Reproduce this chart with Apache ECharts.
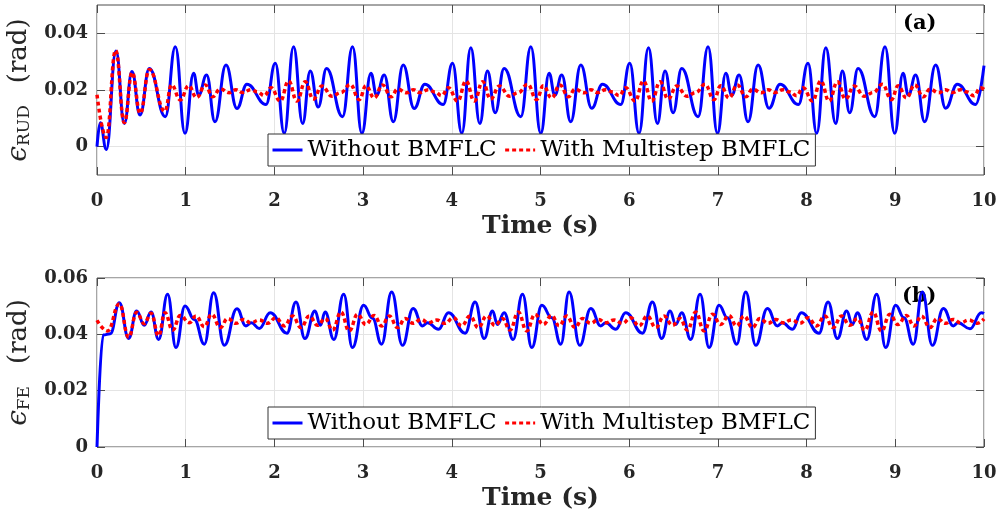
<!DOCTYPE html>
<html>
<head>
<meta charset="utf-8">
<script src="https://cdn.jsdelivr.net/npm/echarts@6/dist/echarts.min.js"></script>
<style>
  html, body { margin: 0; padding: 0; background: #ffffff; }
  #chart { width: 1001px; height: 518px; }
</style>
</head>
<body>
<div id="chart"></div>
<script>
// Tracking error of the radial/ulnar deviation joint, without compensation: [time (s), error (rad)]
const rudWithout = [
  [0,0],[0.037,0.0084],[0.105,-0.001],[0.214,0.0338],[0.308,0.0082],[0.394,0.0265],[0.485,0.0112],[0.590,0.0276],
  [0.770,0.0106],[0.883,0.0353],[0.992,0.0047],[1.089,0.0259],[1.146,0.0182],[1.236,0.0253],[1.330,0.0088],[1.454,0.0288],
  [1.578,0.0135],[1.690,0.0220],[1.905,0.0149],[2.010,0.0294],[2.111,0.0047],[2.216,0.0353],[2.318,0.0082],[2.404,0.0267],
  [2.494,0.0140],[2.588,0.0276],[2.768,0.0106],[2.881,0.0353],[2.986,0.0047],[3.088,0.0259],[3.152,0.0182],[3.238,0.0253],
  [3.341,0.0088],[3.452,0.0288],[3.576,0.0135],[3.696,0.0220],[3.903,0.0149],[4.008,0.0294],[4.113,0.0047],[4.214,0.0349],
  [4.316,0.0082],[4.402,0.0267],[4.489,0.0120],[4.590,0.0276],[4.778,0.0106],[4.891,0.0353],[5.003,0.0047],[5.097,0.0259],
  [5.161,0.0182],[5.240,0.0253],[5.341,0.0088],[5.454,0.0288],[5.578,0.0136],[5.698,0.0220],[5.905,0.0149],[6.006,0.0294],
  [6.111,0.0047],[6.217,0.0349],[6.318,0.0082],[6.404,0.0267],[6.495,0.0120],[6.592,0.0276],[6.777,0.0106],[6.889,0.0353],
  [6.995,0.0047],[7.089,0.0259],[7.156,0.0182],[7.239,0.0253],[7.340,0.0088],[7.453,0.0288],[7.577,0.0136],[7.701,0.0220],
  [7.908,0.0149],[8.016,0.0294],[8.114,0.0047],[8.216,0.0349],[8.328,0.0082],[8.403,0.0267],[8.486,0.0120],[8.580,0.0276],
  [8.768,0.0106],[8.884,0.0353],[8.993,0.0047],[9.087,0.0259],[9.147,0.0182],[9.230,0.0253],[9.331,0.0088],[9.455,0.0288],
  [9.568,0.0136],[9.699,0.0220],[9.906,0.0149],[10.0,0.0286]
];

// Radial/ulnar deviation error with the multistep BMFLC compensator
const rudWith = [
  [0,0.0183],[0.105,0.0032],[0.210,0.0340],[0.308,0.0085],[0.396,0.0262],[0.487,0.0118],[0.590,0.0272],[0.765,0.0125],
  [0.841,0.0218],[0.939,0.0165],[1.033,0.0215],[1.123,0.0173],[1.221,0.0218],[1.304,0.0176],[1.390,0.0204],[1.491,0.0190],
  [1.566,0.0201],[1.642,0.0191],[1.735,0.0201],[1.810,0.0193],[1.886,0.0180],[1.961,0.0208],[2.066,0.0161],[2.160,0.0232],
  [2.254,0.0161],[2.348,0.0229],[2.438,0.0168],[2.536,0.0214],[2.650,0.0178],[2.750,0.0191],
  [2.855,0.0220],[2.956,0.0166],[3.032,0.0215],[3.125,0.0172],[3.219,0.0218],[3.315,0.0176],[3.390,0.0203],[3.491,0.0190],
  [3.566,0.0201],[3.642,0.0191],[3.735,0.0201],[3.810,0.0193],[3.886,0.0180],[3.961,0.0208],[4.066,0.0161],[4.160,0.0232],
  [4.254,0.0161],[4.348,0.0229],[4.438,0.0168],[4.536,0.0214],[4.650,0.0178],[4.750,0.0191],
  [4.855,0.0220],[4.956,0.0166],[5.032,0.0215],[5.125,0.0172],[5.219,0.0218],[5.315,0.0176],[5.390,0.0203],[5.491,0.0190],
  [5.566,0.0201],[5.642,0.0191],[5.735,0.0201],[5.810,0.0193],[5.886,0.0180],[5.961,0.0208],[6.066,0.0161],[6.160,0.0232],
  [6.254,0.0161],[6.348,0.0229],[6.438,0.0168],[6.536,0.0214],[6.650,0.0178],[6.750,0.0191],
  [6.855,0.0220],[6.956,0.0166],[7.032,0.0215],[7.125,0.0172],[7.219,0.0218],[7.315,0.0176],[7.390,0.0203],[7.491,0.0190],
  [7.566,0.0201],[7.642,0.0191],[7.735,0.0201],[7.810,0.0193],[7.886,0.0180],[7.961,0.0208],[8.066,0.0161],[8.160,0.0232],
  [8.254,0.0161],[8.348,0.0229],[8.438,0.0168],[8.536,0.0214],[8.650,0.0178],[8.750,0.0191],
  [8.855,0.0220],[8.956,0.0166],[9.032,0.0215],[9.125,0.0172],[9.219,0.0218],[9.315,0.0176],[9.390,0.0203],[9.491,0.0190],
  [9.566,0.0201],[9.642,0.0191],[9.735,0.0201],[9.810,0.0193],[9.886,0.0180],[9.961,0.0208],[10.0,0.0202]
];

// Flexion/extension error without compensation
const feWithout = [
  [0,0],[0.070,0.0398],[0.150,0.0402],[0.252,0.0512],[0.357,0.0385],[0.447,0.0483],[0.533,0.0432],[0.609,0.0479],
  [0.695,0.0382],[0.796,0.0542],[0.890,0.0353],[0.992,0.0501],[1.097,0.0453],[1.210,0.0365],[1.315,0.0548],[1.435,0.0361],
  [1.578,0.0491],[1.679,0.0430],[1.740,0.0441],[1.830,0.0421],[1.953,0.0477],[2.141,0.0404],[2.243,0.0515],[2.344,0.0385],
  [2.457,0.0483],[2.518,0.0432],[2.572,0.0479],[2.670,0.0382],[2.781,0.0542],[2.880,0.0353],[3.005,0.0503],[3.106,0.0457],
  [3.208,0.0365],[3.322,0.0550],[3.444,0.0361],[3.564,0.0492],[3.670,0.0430],[3.726,0.0441],[3.850,0.0418],[3.963,0.0477],
  [4.150,0.0404],[4.263,0.0515],[4.365,0.0385],[4.459,0.0483],[4.515,0.0435],[4.590,0.0477],[4.691,0.0382],[4.797,0.0542],
  [4.902,0.0353],[5.015,0.0503],[5.127,0.0459],[5.229,0.0365],[5.322,0.0550],[5.443,0.0361],[5.567,0.0492],[5.679,0.0430],
  [5.736,0.0441],[5.848,0.0418],[5.961,0.0477],[6.149,0.0404],[6.262,0.0515],[6.367,0.0385],[6.461,0.0483],[6.525,0.0435],
  [6.592,0.0477],[6.694,0.0382],[6.799,0.0542],[6.901,0.0353],[7.013,0.0503],[7.107,0.0459],[7.213,0.0365],[7.314,0.0550],
  [7.427,0.0361],[7.558,0.0492],[7.671,0.0430],[7.727,0.0441],[7.840,0.0418],[7.941,0.0477],[8.140,0.0404],[8.242,0.0515],
  [8.347,0.0385],[8.452,0.0483],[8.516,0.0435],[8.572,0.0477],[8.678,0.0382],[8.790,0.0542],[8.892,0.0353],[9.004,0.0503],
  [9.098,0.0459],[9.203,0.0365],[9.305,0.0550],[9.418,0.0361],[9.542,0.0492],[9.654,0.0430],[9.707,0.0441],[9.842,0.0420],
  [9.970,0.0477],[10.0,0.0474]
];

// Flexion/extension error with the multistep BMFLC compensator
const feWith = [
  [0,0.0450],[0.120,0.0412],[0.252,0.0508],[0.357,0.0390],[0.447,0.0478],[0.533,0.0438],[0.609,0.0475],[0.695,0.0395],
  [0.766,0.0477],[0.853,0.0415],[0.939,0.0467],[1.040,0.0441],[1.116,0.0465],[1.210,0.0427],[1.292,0.0471],[1.390,0.0424],
  [1.473,0.0456],[1.566,0.0439],[1.653,0.0453],[1.736,0.0441],[1.830,0.0451],[1.923,0.0439],[2.017,0.0459],[2.111,0.0430],
  [2.205,0.0465],[2.299,0.0424],[2.393,0.0465],[2.487,0.0432],[2.573,0.0456],[2.656,0.0415],
  [2.750,0.0479],[2.844,0.0412],[2.938,0.0471],[3.030,0.0435],[3.125,0.0467],[3.210,0.0430],[3.295,0.0465],[3.390,0.0424],
  [3.473,0.0456],[3.566,0.0439],[3.653,0.0453],[3.736,0.0441],[3.830,0.0451],[3.923,0.0439],[4.017,0.0459],[4.111,0.0430],
  [4.205,0.0465],[4.299,0.0424],[4.393,0.0465],[4.487,0.0432],[4.573,0.0456],[4.656,0.0415],
  [4.750,0.0479],[4.844,0.0412],[4.938,0.0471],[5.030,0.0435],[5.125,0.0467],[5.210,0.0430],[5.295,0.0465],[5.390,0.0424],
  [5.473,0.0456],[5.566,0.0439],[5.653,0.0453],[5.736,0.0441],[5.830,0.0451],[5.923,0.0439],[6.017,0.0459],[6.111,0.0430],
  [6.205,0.0465],[6.299,0.0424],[6.393,0.0465],[6.487,0.0432],[6.573,0.0456],[6.656,0.0415],
  [6.750,0.0479],[6.844,0.0412],[6.938,0.0471],[7.030,0.0435],[7.125,0.0467],[7.210,0.0430],[7.295,0.0465],[7.390,0.0424],
  [7.473,0.0456],[7.566,0.0439],[7.653,0.0453],[7.736,0.0441],[7.830,0.0451],[7.923,0.0439],[8.017,0.0459],[8.111,0.0430],
  [8.205,0.0465],[8.299,0.0424],[8.393,0.0465],[8.487,0.0432],[8.573,0.0456],[8.656,0.0415],
  [8.750,0.0479],[8.844,0.0412],[8.938,0.0471],[9.030,0.0435],[9.125,0.0467],[9.210,0.0430],[9.295,0.0465],[9.390,0.0424],
  [9.473,0.0456],[9.566,0.0439],[9.653,0.0453],[9.736,0.0441],[9.830,0.0451],[9.923,0.0439],[10.0,0.0455]
];

const seriesNames = ['Without BMFLC', 'With Multistep BMFLC'];
const rudTicks = [0, 0.02, 0.04];
const feTicks = [0, 0.02, 0.04, 0.06];
const panelLabels = ['(a)', '(b)'];

const SERIF = 'DejaVu Serif';
const AXIS_COLOR = '#4d4d4d';
const GRID_COLOR = '#e4e4e4';
const TEXT_COLOR = '#262626';

function fmtTick(v) {
  return Math.abs(v) < 1e-9 ? '0' : v.toFixed(2);
}

function xAxes(gridIndex) {
  const base = {
    gridIndex, type: 'value', min: 0, max: 10, interval: 1,
    axisLine: { show: false, onZero: false },
    axisTick: { show: true, inside: true, length: 8, lineStyle: { color: AXIS_COLOR, width: 1 } }
  };
  return [
    Object.assign({}, base, {
      position: 'bottom',
      axisLabel: { margin: 17, fontFamily: SERIF, fontWeight: 'bold', fontSize: 18, color: TEXT_COLOR },
      splitLine: { show: true, lineStyle: { color: GRID_COLOR, width: 1 } },
      name: 'Time (s)', nameLocation: 'middle', nameGap: 39,
      nameTextStyle: { fontFamily: SERIF, fontWeight: 'bold', fontSize: 25, color: TEXT_COLOR }
    }),
    Object.assign({}, base, {
      position: 'top',
      axisLabel: { show: false },
      splitLine: { show: false }
    })
  ];
}

function yAxes(gridIndex, min, max, ticks, sub) {
  const base = {
    gridIndex, type: 'value', min, max,
    axisLine: { show: false, onZero: false },
    axisTick: { show: true, inside: true, length: 8, customValues: ticks, lineStyle: { color: AXIS_COLOR, width: 1 } }
  };
  return [
    Object.assign({}, base, {
      position: 'left',
      axisLabel: { customValues: ticks, formatter: fmtTick, margin: 9, fontFamily: SERIF, fontWeight: 'bold', fontSize: 18, color: TEXT_COLOR },
      splitLine: { show: true, lineStyle: { color: GRID_COLOR, width: 1 } },
      name: '{e|ϵ}{s|' + sub + '}{g| }{r|(rad)}',
      nameLocation: 'middle', nameRotate: 90, nameGap: 58,
      nameTextStyle: {
        color: TEXT_COLOR,
        rich: {
          e: { fontFamily: SERIF, fontStyle: 'italic', fontSize: 28, color: TEXT_COLOR },
          s: { fontFamily: SERIF, fontSize: 17, color: TEXT_COLOR, padding: [12, 0, 0, 0] },
          g: { fontFamily: SERIF, fontSize: 26, width: 22 },
          r: { fontFamily: SERIF, fontSize: 26, color: TEXT_COLOR }
        }
      }
    }),
    Object.assign({}, base, {
      position: 'right',
      axisLabel: { show: false },
      splitLine: { show: false }
    })
  ];
}

// Legend keys are plain line samples: a tiny item height keeps the key marker invisible
function legendAt(top) {
  return {
    data: seriesNames,
    left: 268, top,
    orient: 'horizontal',
    itemWidth: 30, itemHeight: 1, itemGap: 7,
    padding: [3, 5, 3, 3],
    borderColor: '#333333', borderWidth: 1, borderRadius: 0,
    backgroundColor: '#ffffff',
    selectedMode: false,
    lineStyle: { width: 3 },
    textStyle: { fontFamily: SERIF, fontSize: 23, color: '#000000', lineHeight: 26 }
  };
}

function lines(xIdx, yIdx, without, withBmflc) {
  return [
    {
      name: seriesNames[0], type: 'line', xAxisIndex: xIdx, yAxisIndex: yIdx,
      data: without, smooth: 0.45, smoothMonotone: 'x', symbol: 'none',
      lineStyle: { color: '#0000ff', width: 3 }, itemStyle: { color: '#0000ff' },
      z: 3
    },
    {
      name: seriesNames[1], type: 'line', xAxisIndex: xIdx, yAxisIndex: yIdx,
      data: withBmflc, smooth: 0.45, smoothMonotone: 'x', symbol: 'none',
      lineStyle: { color: '#ff0000', width: 3.5, type: [4, 3] }, itemStyle: { color: '#ff0000' },
      z: 4
    }
  ];
}

// Panel tags sit beneath the curves
const tagStyle = { fontFamily: SERIF, fontWeight: 'bold', fontSize: 21, color: '#000000' };

const chart = echarts.init(document.getElementById('chart'), null, { renderer: 'canvas' });
chart.setOption({
  animation: false,
  backgroundColor: '#ffffff',
  grid: [
    { left: 97, right: 17, top: 5, height: 170, show: true, borderColor: AXIS_COLOR, borderWidth: 1, backgroundColor: 'transparent', outerBoundsMode: 'none' },
    { left: 97, right: 17, top: 278, height: 169, show: true, borderColor: AXIS_COLOR, borderWidth: 1, backgroundColor: 'transparent', outerBoundsMode: 'none' }
  ],
  xAxis: xAxes(0).concat(xAxes(1)),
  yAxis: yAxes(0, -0.01, 0.05, rudTicks, 'RUD').concat(yAxes(1, 0, 0.06, feTicks, 'FE')),
  legend: [legendAt(134), legendAt(407)],
  title: [
    { text: panelLabels[0], left: 903, top: 13, padding: 0, z: 1, textStyle: tagStyle },
    { text: panelLabels[1], left: 902, top: 286, padding: 0, z: 1, textStyle: tagStyle }
  ],
  series: lines(0, 0, rudWithout, rudWith).concat(lines(2, 2, feWithout, feWith))
});
</script>
</body>
</html>
